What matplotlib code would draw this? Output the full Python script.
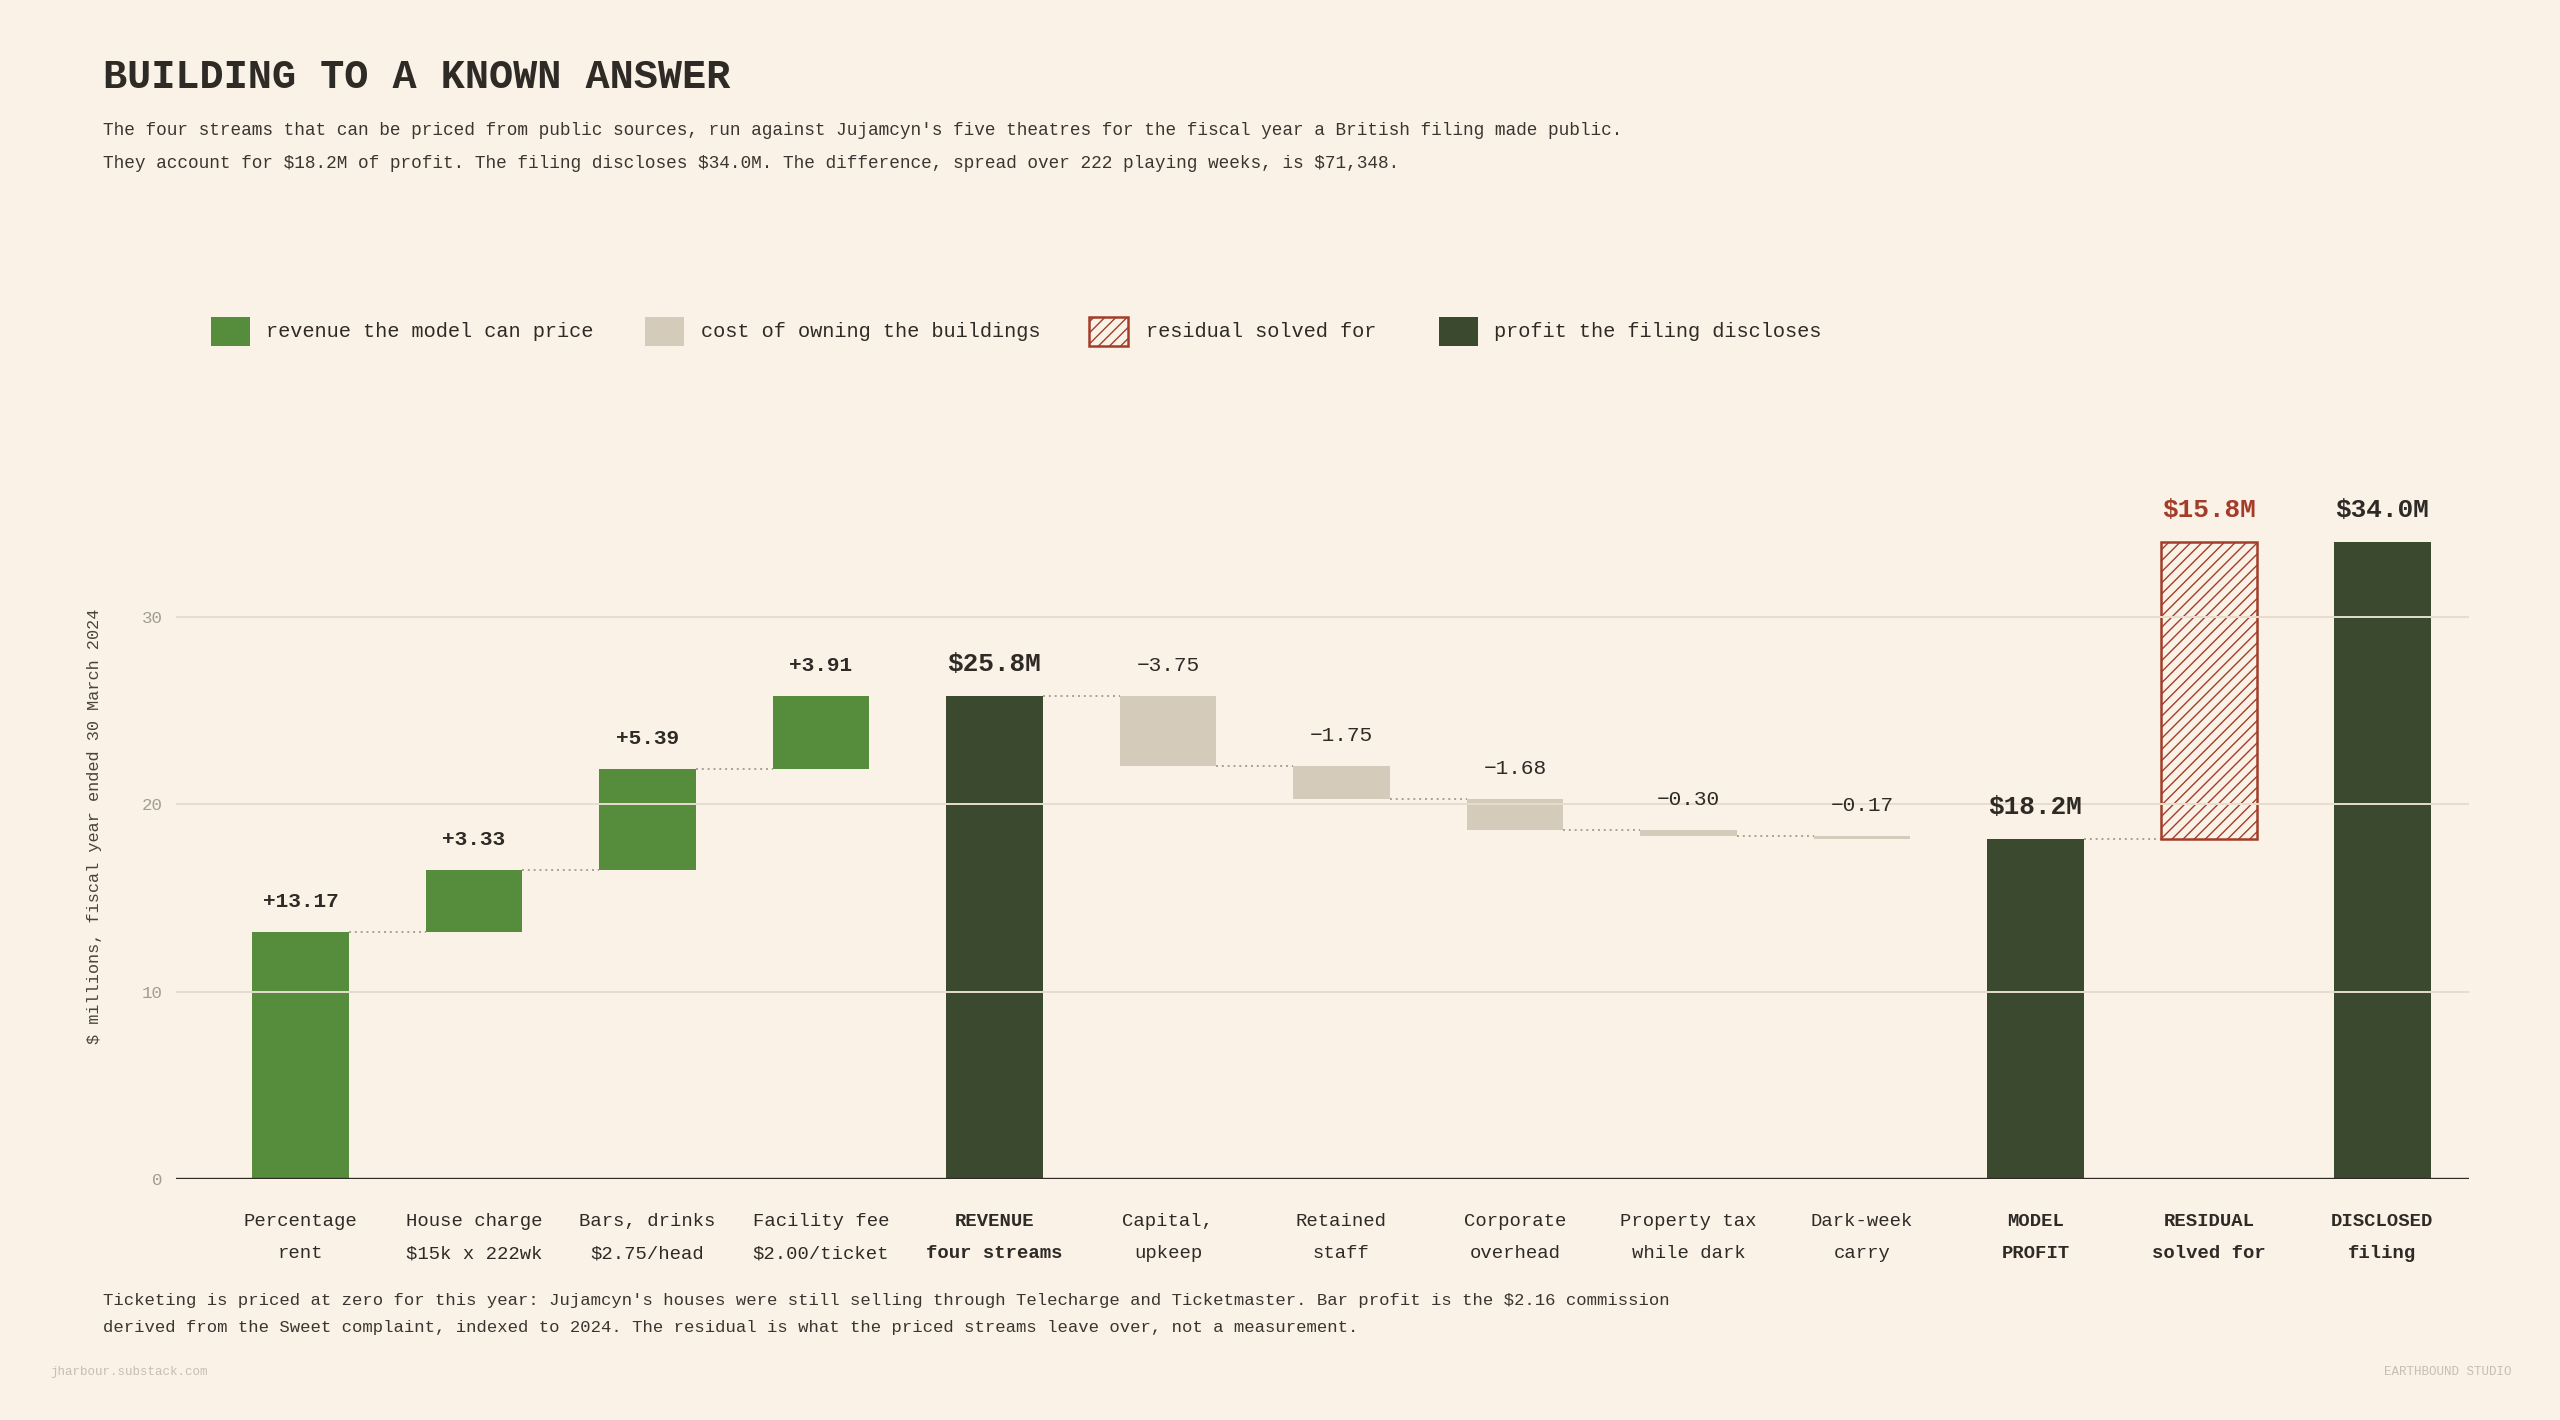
import matplotlib.pyplot as plt
from matplotlib.patches import Rectangle

plt.rcParams['font.family'] = ['Liberation Mono', 'DejaVu Sans Mono']
plt.rcParams['text.parse_math'] = False
plt.rcParams['hatch.linewidth'] = 0.5

# ---- data ----
labels_top = ["Percentage", "House charge", "Bars, drinks", "Facility fee", "REVENUE",
              "Capital,", "Retained", "Corporate", "Property tax", "Dark-week",
              "MODEL", "RESIDUAL", "DISCLOSED"]
labels_bottom = ["rent", "$15k x 222wk", "$2.75/head", "$2.00/ticket", "four streams",
                 "upkeep", "staff", "overhead", "while dark", "carry",
                 "PROFIT", "solved for", "filing"]
revenue_streams = [13.17, 3.33, 5.39, 3.91]
building_costs = [-3.75, -1.75, -1.68, -0.30, -0.17]
disclosed_profit = 34.0
# headline figures as printed on the chart
total_labels = ["$25.8M", "$18.2M", "$15.8M", "$34.0M"]

# colours
BG = '#faf2e7'
GREEN = '#568d3c'
GREY = '#d5cbbb'
DARK = '#3b4a2f'
RED = '#a33d2a'
INK = '#2e2a26'
GRID = '#e6ddce'

# ---- build waterfall pieces ----
bottoms, heights, kinds, tags = [], [], [], []
run = 0.0
for v in revenue_streams:
    bottoms.append(run); heights.append(v); kinds.append('rev'); tags.append('+%.2f' % v)
    run += v
revenue_total = run
bottoms.append(0); heights.append(revenue_total); kinds.append('total'); tags.append(total_labels[0])
for v in building_costs:
    bottoms.append(run + v); heights.append(-v); kinds.append('cost'); tags.append('\u2212%.2f' % -v)
    run += v
model_profit = run
bottoms.append(0); heights.append(model_profit); kinds.append('total'); tags.append(total_labels[1])
residual = disclosed_profit - model_profit
bottoms.append(model_profit); heights.append(residual); kinds.append('resid'); tags.append(total_labels[2])
bottoms.append(0); heights.append(disclosed_profit); kinds.append('total'); tags.append(total_labels[3])

fig = plt.figure(figsize=(12.8, 7.1), dpi=200, facecolor=BG)
ax = fig.add_axes([0.0689, 0.1697, 0.8956, 0.4748])
ax.set_facecolor(BG)

W = 0.555
x = list(range(len(heights)))
for i in x:
    k = kinds[i]
    if k == 'rev':
        ax.bar(i, heights[i], W, bottom=bottoms[i], color=GREEN, zorder=2)
    elif k == 'cost':
        ax.bar(i, heights[i], W, bottom=bottoms[i], color=GREY, zorder=2)
    elif k == 'resid':
        ax.bar(i, heights[i], W, bottom=bottoms[i], facecolor=BG, edgecolor=RED,
               hatch='//////', linewidth=0.9, zorder=2)
    else:
        ax.bar(i, heights[i], W, bottom=bottoms[i], color=DARK, zorder=2)

    top = bottoms[i] + heights[i]
    if k == 'rev':
        ax.annotate(tags[i], (i, top), xytext=(0, 11), textcoords='offset points',
                    ha='center', va='center', fontsize=7.6, fontweight='bold', color=INK, zorder=6)
    elif k == 'cost':
        ax.annotate(tags[i], (i, top), xytext=(0, 11), textcoords='offset points',
                    ha='center', va='center', fontsize=7.6, color=INK, zorder=6)
    else:
        ax.annotate(tags[i], (i, top), xytext=(0, 11.5), textcoords='offset points',
                    ha='center', va='center', fontsize=9.4, fontweight='bold',
                    color=RED if k == 'resid' else INK, zorder=6)

# dotted connectors (not into the total bars)
for i in range(len(heights) - 1):
    if kinds[i + 1] == 'total':
        continue
    if kinds[i] == 'cost':
        level = bottoms[i]
    else:
        level = bottoms[i] + heights[i]
    ax.plot([i + W / 2, i + 1 - W / 2], [level, level], color='#a8a196',
            linestyle=(0, (1, 2)), linewidth=0.7, zorder=1)

# grid drawn over bars, baseline
for g in [10, 20, 30]:
    ax.axhline(g, color=GRID, linewidth=0.7, zorder=3)
ax.axhline(0, color=INK, linewidth=1.2, zorder=4)

ax.set_xlim(-0.715, 12.5)
ax.set_ylim(0, 36)
ax.set_yticks([0, 10, 20, 30])
ax.set_xticks([])
ax.tick_params(axis='y', length=0, pad=5, labelsize=6.3, labelcolor='#a39c92')
for s in ax.spines.values():
    s.set_visible(False)

# two-line category labels
for i in x:
    wt = 'bold' if kinds[i] in ('total', 'resid') else 'normal'
    ax.text(i, -0.063, labels_top[i], transform=ax.get_xaxis_transform(),
            ha='center', va='center', fontsize=6.8, fontweight=wt, color=INK)
    ax.text(i, -0.111, labels_bottom[i], transform=ax.get_xaxis_transform(),
            ha='center', va='center', fontsize=6.8, fontweight=wt, color=INK)

fig.text(0.037, 0.418, '$ millions, fiscal year ended 30 March 2024', rotation=90,
         ha='center', va='center', fontsize=6.1, color='#4a443d')

# title + subtitle
fig.text(0.0402, 0.946, 'BUILDING TO A KNOWN ANSWER', fontsize=14.5, fontweight='bold',
         color=INK, va='center', ha='left')
fig.text(0.0402, 0.908, "The four streams that can be priced from public sources, run against "
         "Jujamcyn's five theatres for the fiscal year a British filing made public.",
         fontsize=6.4, color='#3a3530', va='center')
fig.text(0.0402, 0.885, "They account for $18.2M of profit. The filing discloses $34.0M. "
         "The difference, spread over 222 playing weeks, is $71,348.",
         fontsize=6.4, color='#3a3530', va='center')

# legend, placed by hand
leg_y = 0.7666
sq_w, sq_h = 39 / 2560, 29 / 1420
legend_items = [
    (210.7, 266, dict(facecolor=GREEN, edgecolor='none'), 'revenue the model can price'),
    (645, 700.6, dict(facecolor=GREY, edgecolor='none'), 'cost of owning the buildings'),
    (1089, 1146, dict(facecolor=BG, edgecolor=RED, hatch='//////', linewidth=0.9), 'residual solved for'),
    (1438.7, 1494, dict(facecolor=DARK, edgecolor='none'), 'profit the filing discloses'),
]
for px, tx, style, txt in legend_items:
    fig.patches.append(Rectangle((px / 2560, leg_y - sq_h / 2), sq_w, sq_h,
                                 transform=fig.transFigure, **style))
    fig.text(tx / 2560, leg_y, txt, fontsize=7.3, color=INK, va='center')

# footnote
fig.text(0.0402, 0.0845, "Ticketing is priced at zero for this year: Jujamcyn's houses were still "
         "selling through Telecharge and Ticketmaster. Bar profit is the $2.16 commission",
         fontsize=6.2, color='#3a3530', va='center')
fig.text(0.0402, 0.065, "derived from the Sweet complaint, indexed to 2024. The residual is what "
         "the priced streams leave over, not a measurement.",
         fontsize=6.2, color='#3a3530', va='center')

fig.text(0.0198, 0.034, 'jharbour.substack.com', fontsize=4.5, color='#c6beb3', va='center')
fig.text(0.981, 0.034, 'EARTHBOUND STUDIO', fontsize=4.5, color='#c6beb3', va='center', ha='right')

fig.savefig('out.png', dpi=200, facecolor=BG)
